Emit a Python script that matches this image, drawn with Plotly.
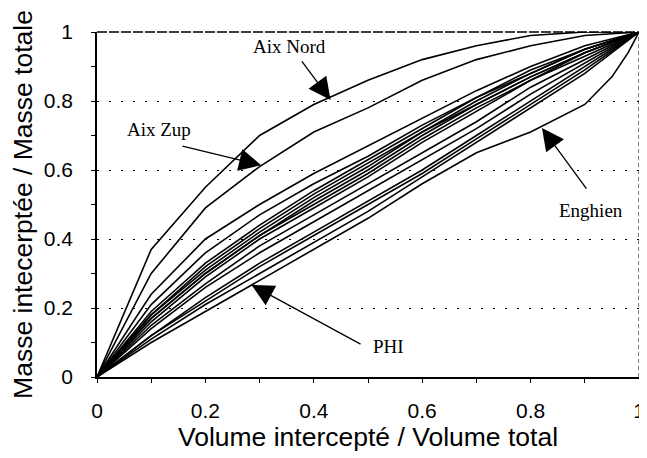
import plotly.graph_objects as go

# Shared x grid (Volume intercepté / Volume total)
x_grid = [0, 0.1, 0.2, 0.3, 0.4, 0.5, 0.6, 0.7, 0.8, 0.9, 1.0]

# Named curves
aix_nord = [0, 0.37, 0.55, 0.70, 0.79, 0.86, 0.92, 0.96, 0.99, 1.0, 1.0]
aix_zup = [0, 0.30, 0.49, 0.61, 0.71, 0.78, 0.86, 0.92, 0.96, 0.99, 1.0]
phi = [0, 0.11, 0.21, 0.30, 0.39, 0.48, 0.58, 0.68, 0.78, 0.88, 1.0]
enghien_x = [0, 0.1, 0.2, 0.3, 0.4, 0.5, 0.6, 0.7, 0.8, 0.9, 0.95, 0.98, 1.0]
enghien = [0, 0.10, 0.19, 0.28, 0.37, 0.46, 0.56, 0.65, 0.71, 0.79, 0.87, 0.94, 1.0]

# Other sites (unlabelled bundle)
other_sites = [
    [0, 0.24, 0.40, 0.50, 0.59, 0.67, 0.75, 0.83, 0.90, 0.96, 1.0],
    [0, 0.21, 0.36, 0.47, 0.56, 0.64, 0.73, 0.81, 0.89, 0.95, 1.0],
    [0, 0.19, 0.33, 0.44, 0.54, 0.63, 0.72, 0.81, 0.88, 0.95, 1.0],
    [0, 0.18, 0.32, 0.43, 0.53, 0.62, 0.71, 0.80, 0.88, 0.95, 1.0],
    [0, 0.18, 0.31, 0.42, 0.52, 0.61, 0.71, 0.79, 0.87, 0.94, 1.0],
    [0, 0.17, 0.30, 0.41, 0.51, 0.60, 0.70, 0.79, 0.87, 0.94, 1.0],
    [0, 0.17, 0.30, 0.41, 0.50, 0.59, 0.69, 0.78, 0.86, 0.94, 1.0],
    [0, 0.16, 0.29, 0.40, 0.49, 0.58, 0.68, 0.77, 0.86, 0.93, 1.0],
    [0, 0.15, 0.27, 0.38, 0.47, 0.56, 0.65, 0.74, 0.84, 0.92, 1.0],
    [0, 0.14, 0.26, 0.36, 0.45, 0.54, 0.63, 0.72, 0.82, 0.91, 1.0],
    [0, 0.12, 0.23, 0.33, 0.42, 0.51, 0.60, 0.70, 0.80, 0.90, 1.0],
    [0, 0.12, 0.22, 0.32, 0.41, 0.50, 0.59, 0.69, 0.79, 0.89, 1.0],
]

x_ticks = [0, 0.2, 0.4, 0.6, 0.8, 1]
y_ticks = [0, 0.2, 0.4, 0.6, 0.8, 1]
tick_text = ["0", "0.2", "0.4", "0.6", "0.8", "1"]

line_style = dict(color="black", width=1.6)

fig = go.Figure()
for ys in other_sites:
    fig.add_trace(go.Scatter(x=x_grid, y=ys, mode="lines", line=line_style,
                             showlegend=False, hoverinfo="skip"))
fig.add_trace(go.Scatter(x=x_grid, y=aix_nord, mode="lines", line=line_style, showlegend=False))
fig.add_trace(go.Scatter(x=x_grid, y=aix_zup, mode="lines", line=line_style, showlegend=False))
fig.add_trace(go.Scatter(x=x_grid, y=phi, mode="lines", line=line_style, showlegend=False))
fig.add_trace(go.Scatter(x=enghien_x, y=enghien, mode="lines", line=line_style, showlegend=False))

serif = dict(family="Liberation Serif, Times New Roman, serif", size=19, color="black")
labels = [
    # text, text x, text y, tip x, tip y, tail x, tail y
    ("Aix Nord", 0.356, 0.957, 0.431, 0.803, 0.376, 0.919),
    ("Aix Zup", 0.115, 0.716, 0.303, 0.614, 0.155, 0.670),
    ("Enghien", 0.912, 0.484, 0.821, 0.722, 0.905, 0.542),
    ("PHI", 0.538, 0.087, 0.285, 0.267, 0.489, 0.093),
]
for text, tx, ty, hx, hy, sx, sy in labels:
    fig.add_annotation(x=hx, y=hy, ax=sx, ay=sy, xref="x", yref="y", axref="x", ayref="y",
                       text="", showarrow=True, arrowhead=2, arrowsize=3.4, arrowwidth=1.3,
                       arrowcolor="black", standoff=0, startstandoff=0)
    fig.add_annotation(x=tx, y=ty, xref="x", yref="y", text=text, showarrow=False, font=serif)

# Dashed top and right frame
fig.add_shape(type="line", xref="paper", yref="paper", x0=0, x1=1, y0=1, y1=1,
              line=dict(color="black", width=1.3, dash="10px,2px"))
fig.add_shape(type="line", xref="paper", yref="paper", x0=1, x1=1, y0=0, y1=1,
              line=dict(color="black", width=1, dash="4px,3px"))

sans = "Arial, Liberation Sans, sans-serif"
fig.update_layout(
    width=647, height=458,
    margin=dict(l=89, r=10, t=24, b=89),
    paper_bgcolor="white", plot_bgcolor="white",
    font=dict(family=sans, color="black"),
    xaxis=dict(range=[0, 1], tickvals=x_ticks, ticktext=tick_text,
               showgrid=False, zeroline=False, showline=True, linecolor="black", linewidth=1.5,
               ticks="outside", ticklen=4, tickcolor="black", ticklabeloverflow="allow",
               minor=dict(dtick=0.1, tick0=0, ticks="outside", ticklen=4, tickcolor="black", showgrid=False),
               tickfont=dict(size=21), ticklabelstandoff=10,
               title=dict(text="Volume intercepté / Volume total", font=dict(size=26.5), standoff=6)),
    yaxis=dict(range=[0, 1], tickvals=y_ticks, ticktext=tick_text,
               showgrid=True, gridcolor="black", gridwidth=1.4, griddash="2px,10px",
               zeroline=False, showline=True, linecolor="black", linewidth=1.5,
               ticks="outside", ticklen=4, tickcolor="black",
               minor=dict(dtick=0.1, tick0=0, ticks="outside", ticklen=4, tickcolor="black", showgrid=False),
               tickfont=dict(size=21), ticklabelstandoff=14,
               title=dict(text="Masse intecerptée / Masse totale", font=dict(size=26.5), standoff=6)),
)

fig.write_html("out.html")
